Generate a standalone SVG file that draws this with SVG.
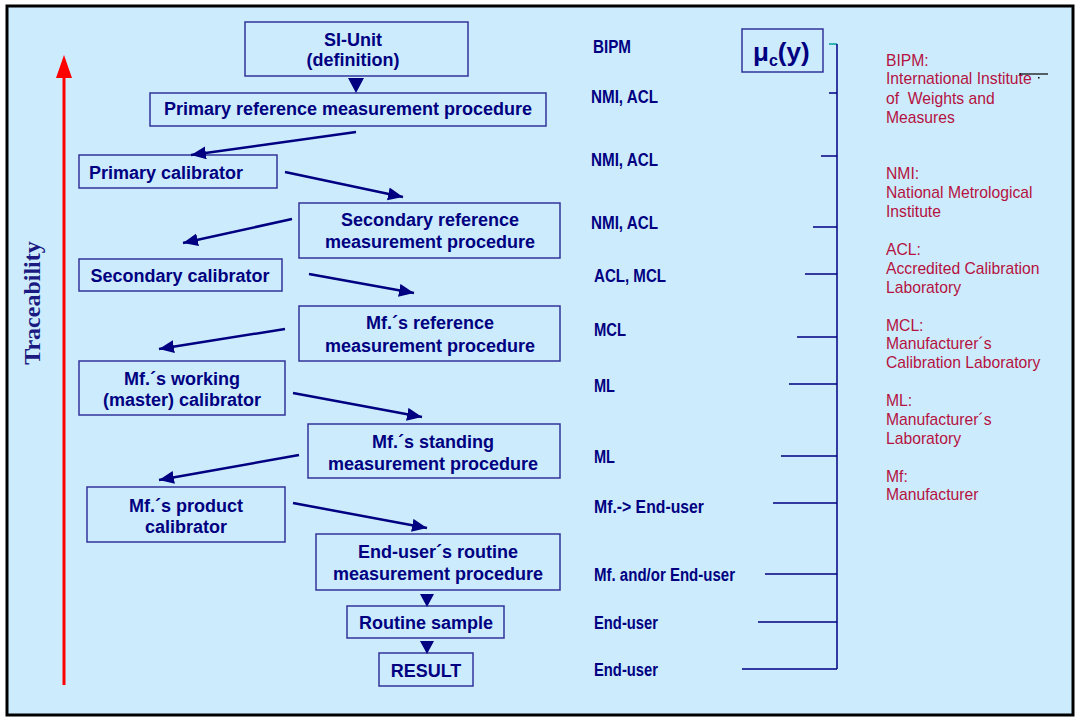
<svg xmlns="http://www.w3.org/2000/svg" width="1078" height="719" viewBox="0 0 1078 719">
  <style>
    .box { fill: none; stroke: #333399; stroke-width: 1.5; }
    .bt { font-family: "Liberation Sans", Arial, sans-serif; font-weight: bold; font-size: 18px; fill: #000080; text-anchor: middle; }
    .bt.left { text-anchor: start; }
    .lab { font-family: "Liberation Sans", Arial, sans-serif; font-weight: bold; font-size: 18px; fill: #000080; }
    .def { font-family: "Liberation Sans", Arial, sans-serif; font-size: 15.7px; fill: #B5123E; }
    .conn { stroke: #000080; stroke-width: 2.5; fill: none; marker-end: url(#head); }
    .tick { stroke: #000080; stroke-width: 1.5; }
    .tri { fill: #000080; }
  </style>
  <defs>
    <marker id="head" markerUnits="userSpaceOnUse" markerWidth="16" markerHeight="14" refX="15" refY="6.5" orient="auto">
      <path d="M0,0 L15,6.5 L0,13 Z" fill="#000080"/>
    </marker>
  </defs>

  <!-- page frame -->
  <rect x="7" y="6" width="1066" height="709" fill="#CCECFE" stroke="#000" stroke-width="3"/>

  <!-- traceability axis -->
  <g id="traceability">
    <line x1="64" y1="685" x2="64" y2="76" stroke="#FF0000" stroke-width="3"/>
    <polygon points="64,55 56,78 72,78" fill="#FF0000"/>
    <text transform="translate(40,303) rotate(-90)" font-family="Liberation Serif, 'Times New Roman', serif" font-weight="bold" font-size="24" fill="#1A1A80" text-anchor="middle">Traceability</text>
  </g>

  <!-- hierarchy nodes -->
  <g id="si-unit">
    <rect class="box" x="245" y="22" width="223" height="54"/>
    <text class="bt" x="353" y="46">SI-Unit</text>
    <text class="bt" x="353" y="66">(definition)</text>
  </g>
  <g id="primary-ref-procedure">
    <rect class="box" x="150" y="93" width="396" height="33"/>
    <text class="bt" x="348" y="115">Primary reference measurement procedure</text>
  </g>
  <g id="primary-calibrator">
    <rect class="box" x="79" y="155" width="198" height="33"/>
    <text class="bt left" x="89" y="179">Primary calibrator</text>
  </g>
  <g id="secondary-ref-procedure">
    <rect class="box" x="299" y="203" width="261" height="55"/>
    <text class="bt" x="430" y="226">Secondary reference</text>
    <text class="bt" x="430" y="248">measurement procedure</text>
  </g>
  <g id="secondary-calibrator">
    <rect class="box" x="79" y="259" width="203" height="32"/>
    <text class="bt" x="180" y="282">Secondary calibrator</text>
  </g>
  <g id="mf-ref-procedure">
    <rect class="box" x="299" y="306" width="261" height="55"/>
    <text class="bt" x="430" y="329">Mf.´s reference</text>
    <text class="bt" x="430" y="352">measurement procedure</text>
  </g>
  <g id="mf-working-calibrator">
    <rect class="box" x="79" y="361" width="206" height="54"/>
    <text class="bt" x="182" y="385">Mf.´s working</text>
    <text class="bt" x="182" y="406">(master) calibrator</text>
  </g>
  <g id="mf-standing-procedure">
    <rect class="box" x="308" y="424" width="252" height="54"/>
    <text class="bt" x="433" y="448">Mf.´s standing</text>
    <text class="bt" x="433" y="470">measurement procedure</text>
  </g>
  <g id="mf-product-calibrator">
    <rect class="box" x="87" y="487" width="198" height="55"/>
    <text class="bt" x="186" y="512">Mf.´s product</text>
    <text class="bt" x="186" y="533">calibrator</text>
  </g>
  <g id="enduser-routine-procedure">
    <rect class="box" x="316" y="534" width="244" height="56"/>
    <text class="bt" x="438" y="558">End-user´s routine</text>
    <text class="bt" x="438" y="580">measurement procedure</text>
  </g>
  <g id="routine-sample">
    <rect class="box" x="347" y="606" width="157" height="32"/>
    <text class="bt" x="426" y="629">Routine sample</text>
  </g>
  <g id="result">
    <rect class="box" x="379" y="653" width="94" height="33"/>
    <text class="bt" x="426" y="677">RESULT</text>
  </g>

  <!-- connectors -->
  <g id="connectors">
    <polygon class="tri" points="348,78 364,78 356,93"/>
    <line class="conn" x1="356" y1="132" x2="191" y2="155"/>
    <line class="conn" x1="285" y1="172" x2="403" y2="197"/>
    <line class="conn" x1="292" y1="219" x2="183" y2="243"/>
    <line class="conn" x1="309" y1="274" x2="414" y2="293"/>
    <line class="conn" x1="285" y1="329" x2="159" y2="349"/>
    <line class="conn" x1="293" y1="393" x2="422" y2="417"/>
    <line class="conn" x1="299" y1="455" x2="159" y2="480"/>
    <line class="conn" x1="293" y1="503" x2="427" y2="528"/>
    <polygon class="tri" points="420,594 434,594 427,607"/>
    <polygon class="tri" points="420,641 434,641 427,654"/>
  </g>

  <!-- responsible institutions -->
  <g id="institutions">
    <text class="lab" x="593" y="53" textLength="38" lengthAdjust="spacingAndGlyphs">BIPM</text>
    <text class="lab" x="591" y="103" textLength="67" lengthAdjust="spacingAndGlyphs">NMI, ACL</text>
    <text class="lab" x="591" y="166" textLength="67" lengthAdjust="spacingAndGlyphs">NMI, ACL</text>
    <text class="lab" x="591" y="229" textLength="67" lengthAdjust="spacingAndGlyphs">NMI, ACL</text>
    <text class="lab" x="594" y="282" textLength="72" lengthAdjust="spacingAndGlyphs">ACL, MCL</text>
    <text class="lab" x="594" y="336" textLength="32" lengthAdjust="spacingAndGlyphs">MCL</text>
    <text class="lab" x="594" y="392" textLength="21" lengthAdjust="spacingAndGlyphs">ML</text>
    <text class="lab" x="594" y="463" textLength="21" lengthAdjust="spacingAndGlyphs">ML</text>
    <text class="lab" x="594" y="513" textLength="110" lengthAdjust="spacingAndGlyphs">Mf.-&gt; End-user</text>
    <text class="lab" x="594" y="581" textLength="141" lengthAdjust="spacingAndGlyphs">Mf. and/or End-user</text>
    <text class="lab" x="594" y="629" textLength="64" lengthAdjust="spacingAndGlyphs">End-user</text>
    <text class="lab" x="594" y="676" textLength="64" lengthAdjust="spacingAndGlyphs">End-user</text>
  </g>

  <!-- combined standard uncertainty scale -->
  <g id="uncertainty">
    <rect class="box" x="742" y="29" width="81" height="43"/>
    <text x="753" y="61" font-family="Liberation Sans, Arial, sans-serif" font-weight="bold" font-size="26" fill="#000080">μ<tspan font-size="16" dy="5">c</tspan><tspan dy="-5">(y)</tspan></text>
    <line x1="829" y1="44" x2="837" y2="44" stroke="#00A0A0" stroke-width="1.5"/>
    <line class="tick" x1="837" y1="44" x2="837" y2="669"/>
    <line class="tick" x1="829" y1="93" x2="837" y2="93"/>
    <line class="tick" x1="821" y1="156" x2="837" y2="156"/>
    <line class="tick" x1="813" y1="227" x2="837" y2="227"/>
    <line class="tick" x1="805" y1="274" x2="837" y2="274"/>
    <line class="tick" x1="797" y1="337" x2="837" y2="337"/>
    <line class="tick" x1="789" y1="384" x2="837" y2="384"/>
    <line class="tick" x1="781" y1="456" x2="837" y2="456"/>
    <line class="tick" x1="773" y1="503" x2="837" y2="503"/>
    <line class="tick" x1="765" y1="574" x2="837" y2="574"/>
    <line class="tick" x1="758" y1="622" x2="837" y2="622"/>
    <line class="tick" x1="742" y1="669" x2="837" y2="669"/>
  </g>

  <!-- abbreviations -->
  <g id="legend">
    <text class="def" x="886" y="66">BIPM:</text>
    <text class="def" x="886" y="84">International Institute</text>
    <text class="def" x="886" y="104">of&#160; Weights and</text>
    <text class="def" x="886" y="123">Measures</text>
    <line x1="1019" y1="74" x2="1048" y2="74" stroke="#000" stroke-width="1.2"/>
    <rect x="1038" y="77" width="1.5" height="1.5" fill="#000"/>
    <text class="def" x="886" y="179">NMI:</text>
    <text class="def" x="886" y="198">National Metrological</text>
    <text class="def" x="886" y="217">Institute</text>
    <text class="def" x="886" y="255">ACL:</text>
    <text class="def" x="886" y="274">Accredited Calibration</text>
    <text class="def" x="886" y="293">Laboratory</text>
    <text class="def" x="886" y="331">MCL:</text>
    <text class="def" x="886" y="349">Manufacturer´s</text>
    <text class="def" x="886" y="368">Calibration Laboratory</text>
    <text class="def" x="886" y="406">ML:</text>
    <text class="def" x="886" y="425">Manufacturer´s</text>
    <text class="def" x="886" y="444">Laboratory</text>
    <text class="def" x="886" y="482">Mf:</text>
    <text class="def" x="886" y="500">Manufacturer</text>
  </g>
</svg>
